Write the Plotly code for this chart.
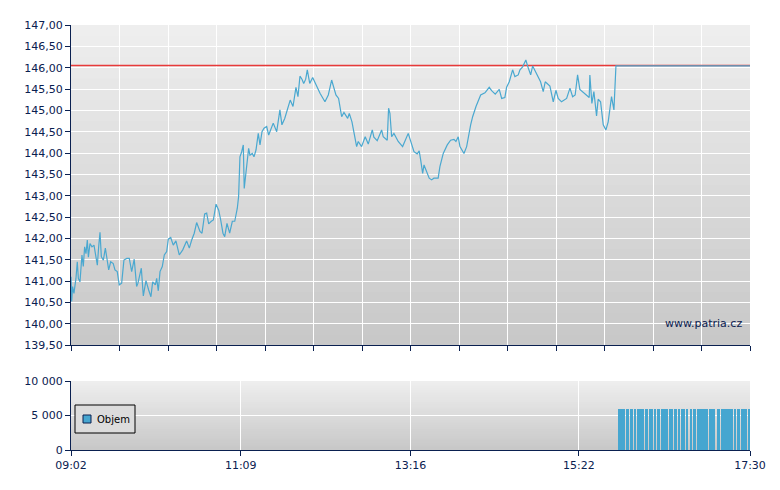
import plotly.graph_objects as go

# minutes after 09:02
price_minutes = [0,0.5,1.2,2.2,3.7,4.7,5.5,6.7,8.2,9.2,10.2,11.2,12.2,13,14.2,15.7,17.2,18.7,19.7,20.7,21.7,22.7,24.2,25.7,27.2,28.2,29.7,31.6,32.9,34.6,36.1,37.9,39.6,41.7,43.6,45.4,47.3,49.1,50.1,52.6,54.1,56.1,58.1,59.8,61.1,63.1,64.1,65.3,66.6,68.3,69.8,71.6,72.8,74.6,76.5,78.5,81,83.6,86.5,88.5,90.3,92.2,94,96.5,98,100,101.5,103,105,106.5,108.5,110.5,112,113.7,115,116.7,118.7,120.7,122.5,124.4,125.4,126.4,127.7,128.9,129.6,131.4,132.9,133.9,135.6,136.9,138.4,140.1,141.4,142.9,144.4,146.4,147.9,151.3,153.9,156.3,157.8,159.9,161.4,164,166.1,168.3,169.8,171.3,172.8,174.1,175.6,176.8,178.6,180.8,186.3,190,192.5,195,198.2,200.2,202.5,204.2,207,208.2,210.2,211.7,213.7,214.9,217.4,220.1,222.4,225.4,226.6,229.1,232.4,233.6,236.6,237.6,238.6,239.9,241.6,244.8,248.1,252.3,254.8,256.6,259,260.5,261.6,263.1,264.1,266.1,268,269.8,271.5,274.7,276,278.5,281.5,284,286.5,288,289.7,291,294,296,297.5,299,300.5,303,306.5,309.7,312.9,314.7,317.4,320.4,322.2,324.6,325.9,327.9,330.4,332.1,334.6,335.9,337.9,340.3,341.8,343.9,345.4,348.3,351.3,353.3,354.8,358.3,360.8,362.8,364.5,367,370.8,373.3,375.3,377.2,379,380.7,384.5,387.7,388.2,389.7,391.2,393.2,394.4,396.2,398.2,400.2,401.9,404.4,406.2,407.7,508]
prices = [141.10,140.52,140.87,140.71,141.06,141.45,141.06,140.98,141.61,141.34,141.80,141.64,141.96,141.56,141.88,141.80,141.84,141.57,141.37,141.80,142.14,141.57,141.49,141.77,141.45,141.26,141.45,141.41,141.26,141.22,140.91,140.95,141.49,141.53,141.53,141.22,141.51,140.87,140.95,141.30,140.65,141.01,140.79,140.63,140.98,140.91,141.06,140.77,141.22,141.34,141.61,141.69,141.98,142.02,141.84,141.94,141.61,141.73,141.94,141.77,141.96,142.12,142.37,142.16,142.12,142.57,142.59,142.34,142.40,142.43,142.80,142.66,142.43,142.12,142.04,142.35,142.12,142.40,142.40,142.70,142.98,143.91,144.03,144.19,143.17,143.72,144.11,143.95,143.99,143.91,144.07,144.46,144.19,144.50,144.58,144.62,144.42,144.70,144.50,145.01,144.66,144.81,144.97,145.24,145.09,145.54,145.32,145.80,145.73,145.63,145.73,145.95,145.63,145.77,145.40,145.20,145.36,145.71,145.36,145.28,144.85,144.95,144.81,144.93,144.73,144.50,144.15,144.27,144.15,144.38,144.21,144.54,144.37,144.29,144.54,144.38,144.30,145.05,144.93,144.38,144.46,144.27,144.15,144.46,144.19,144.03,143.98,144.05,143.84,143.52,143.72,143.56,143.41,143.37,143.41,143.41,143.68,143.99,144.19,144.30,144.32,144.27,144.38,144.15,143.99,144.15,144.46,144.66,144.85,145.09,145.36,145.41,145.54,145.46,145.38,145.49,145.28,145.30,145.54,145.67,145.95,145.79,145.83,145.95,146.02,146.18,146.02,145.83,146.04,145.87,145.67,145.44,145.67,145.57,145.20,145.47,145.28,145.20,145.28,145.52,145.32,145.36,145.83,145.49,145.38,145.30,145.83,145.16,145.44,144.87,145.26,145.20,144.66,144.54,144.73,145.32,145.01,146.04,146.04]
reference_price = 146.05

volume_start = 410
volumes = [5900,5900,5900,0,5900,0,5900,5900,0,5900,5900,0,5900,0,5900,0,5900,5900,5900,0,
           5900,5900,0,5900,5900,5900,0,5900,0,5900,5900,0,5900,0,5900,5900,5900,0,5900,0,
           5900,0,5900,5900,0,5900,0,5900,5900,5900,0,5900,0,0,5900,0,5900,5900,0,5900,
           0,5900,5900,0,5900,5900,5900,0,5900,0,5900,5900,0,0,5900,5900,0,5900,0,5900,
           5900,0,5900,5900,0,5900,0,5900,0,5900,5900,0,5900,0,5900,5900,0,5900]
volume_minutes = [volume_start + i for i in range(len(volumes))]

bottom_tickvals = [0, 127, 254, 380, 508]
bottom_ticktext = ["09:02", "11:09", "13:16", "15:22", "17:30"]
top_tickvals = [508 * i / 14 for i in range(15)]
price_ticks = [139.5 + 0.5 * i for i in range(16)]
vol_ticks = [0, 5000, 10000]
vol_ticktext = ["0", "5 000", "10 000"]

NAVY = "#0a2050"
BLUE = "#4aa8d0"
FONT = dict(family="DejaVu Sans", size=11, color=NAVY)
OX, OY = 8, 8  # page body margin offset
W, H = 780, 490

def px(x):
    return (x - OX) / W

def py(y):
    return 1 - (y - OY) / H

fig = go.Figure()
fig.add_trace(go.Scatter(x=[0, 508], y=[reference_price] * 2, mode="lines",
                         line=dict(color="#e83a3a", width=1.5), xaxis="x", yaxis="y", hoverinfo="skip"))
fig.add_trace(go.Scatter(x=price_minutes, y=prices, mode="lines",
                         line=dict(color=BLUE, width=1.2), xaxis="x", yaxis="y"))
fig.add_trace(go.Bar(x=volume_minutes, y=volumes, width=1, marker=dict(color="#46a6d0", line=dict(width=0)),
                     xaxis="x2", yaxis="y2", name="Objem"))

shapes = []
n = 30
for xr, yref in (("x domain", "y domain"), ("x2 domain", "y2 domain")):
    shapes.append(dict(type="rect", xref=xr, yref=yref, x0=0, x1=1, y0=0, y1=1,
                       fillcolor="rgb(200,200,200)", line=dict(width=0), layer="below"))
    for i in range(1, n):
        c = round(200 + (238 - 200) * i / (n - 1))
        shapes.append(dict(type="rect", xref=xr, yref=yref, x0=0, x1=1, y0=i / n, y1=1,
                           fillcolor=f"rgb({c},{c},{c})", line=dict(width=0), layer="below"))
# legend box
shapes.append(dict(type="rect", xref="paper", yref="paper", x0=px(75), x1=px(135),
                   y0=py(433), y1=py(405), line=dict(color="black", width=1), fillcolor="#dcdcdc"))
shapes.append(dict(type="rect", xref="paper", yref="paper", x0=px(83), x1=px(91),
                   y0=py(423), y1=py(415), line=dict(color=NAVY, width=1), fillcolor="#46a6d0"))

axcommon = dict(showline=True, linecolor=NAVY, linewidth=1, ticks="outside", ticklen=5,
                tickcolor=NAVY, gridcolor="white", gridwidth=1, zeroline=False, tickfont=FONT,
                automargin=False)
fig.update_layout(
    width=W, height=H, margin=dict(l=0, r=0, t=0, b=0, autoexpand=False),
    paper_bgcolor="white", plot_bgcolor="rgba(0,0,0,0)", showlegend=False, bargap=0,
    xaxis=dict(domain=[px(71), px(750)], range=[0, 508], tickvals=top_tickvals,
               showticklabels=False, anchor="y", **axcommon),
    yaxis=dict(domain=[py(345), py(25)], range=[139.5, 147], tickvals=price_ticks,
               ticktext=[f"{v:.2f}".replace(".", ",") for v in price_ticks], anchor="x", **axcommon),
    xaxis2=dict(domain=[px(71), px(750)], range=[0, 508], tickvals=bottom_tickvals,
                ticktext=bottom_ticktext, anchor="y2", **axcommon),
    yaxis2=dict(domain=[py(450), py(381)], range=[0, 10000], tickvals=vol_ticks,
                ticktext=vol_ticktext, anchor="x2", **axcommon),
    shapes=shapes,
    annotations=[
        dict(text="www.patria.cz", xref="paper", yref="paper", x=px(744), y=py(323),
             xanchor="right", yanchor="middle", showarrow=False, font=FONT),
        dict(text="Objem", xref="paper", yref="paper", x=px(95), y=py(419),
             xanchor="left", yanchor="middle", showarrow=False, font=dict(family="DejaVu Sans", size=10, color="black")),
    ],
)
fig.write_html("out.html")
